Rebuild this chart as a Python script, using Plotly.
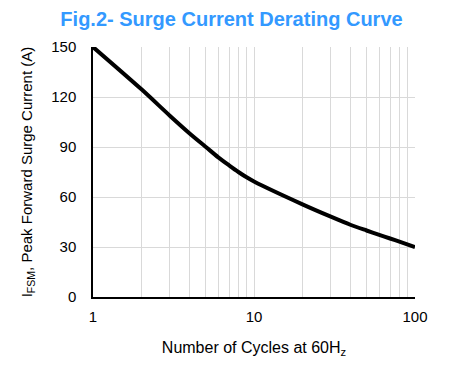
import plotly.graph_objects as go

cycles = [1, 2, 3, 4, 5, 6, 7, 8, 9, 10, 20, 30, 40, 50, 60, 70, 80, 100]
current = [150, 124.6, 108.8, 98, 90.2, 83.8, 79, 75, 71.8, 69.3, 55.6, 48.2, 43.2, 39.9, 37.3, 35.1, 33.2, 30]

x_ticks = [1, 10, 100]
x_minor = [2, 3, 4, 5, 6, 7, 8, 9, 20, 30, 40, 50, 60, 70, 80, 90]
y_ticks = [0, 30, 60, 90, 120, 150]

fig = go.Figure()
fig.add_trace(go.Scatter(x=cycles, y=current, mode="lines",
                         line=dict(color="black", width=4, shape="spline", smoothing=0.8),
                         showlegend=False, hoverinfo="skip"))

font = "Arial, Liberation Sans, sans-serif"
fig.update_layout(
    width=443, height=361,
    margin=dict(l=85, r=36, t=39, b=72),
    paper_bgcolor="white", plot_bgcolor="white",
    title=dict(text="<b>Fig.2- Surge Current Derating Curve</b>",
               font=dict(family=font, size=20, color="#3399FF"),
               x=(231.5 - 8) / 443, xanchor="center", y=0.99, yanchor="top"),
    font=dict(family=font, size=15, color="black"),
)
fig.update_xaxes(type="log", range=[0, 2], tickvals=x_ticks, ticktext=["1", "10", "100"],
                 showgrid=True, gridcolor="#d9d9d9", gridwidth=1,
                 minor=dict(tickvals=x_minor, showgrid=True, gridcolor="#d9d9d9", gridwidth=1, ticks=""),
                 showline=True, linecolor="black", linewidth=1.5, ticks="", automargin=False,
                 tickfont=dict(size=15), zeroline=False, ticklabelstandoff=5,
                 title=dict(text="Number of Cycles at 60H<sub>z</sub>", font=dict(size=16), standoff=18))
fig.update_yaxes(range=[0, 150], tickvals=y_ticks, showgrid=True, gridcolor="#d9d9d9", gridwidth=1,
                 showline=True, linecolor="black", linewidth=1.5, ticks="", zeroline=False,
                 tickfont=dict(size=15), ticklabelstandoff=12, automargin=False,
                 title=dict(text="I<sub>FSM</sub>, Peak Forward Surge Current (A)", font=dict(size=15), standoff=15))

fig.write_html("out.html")
